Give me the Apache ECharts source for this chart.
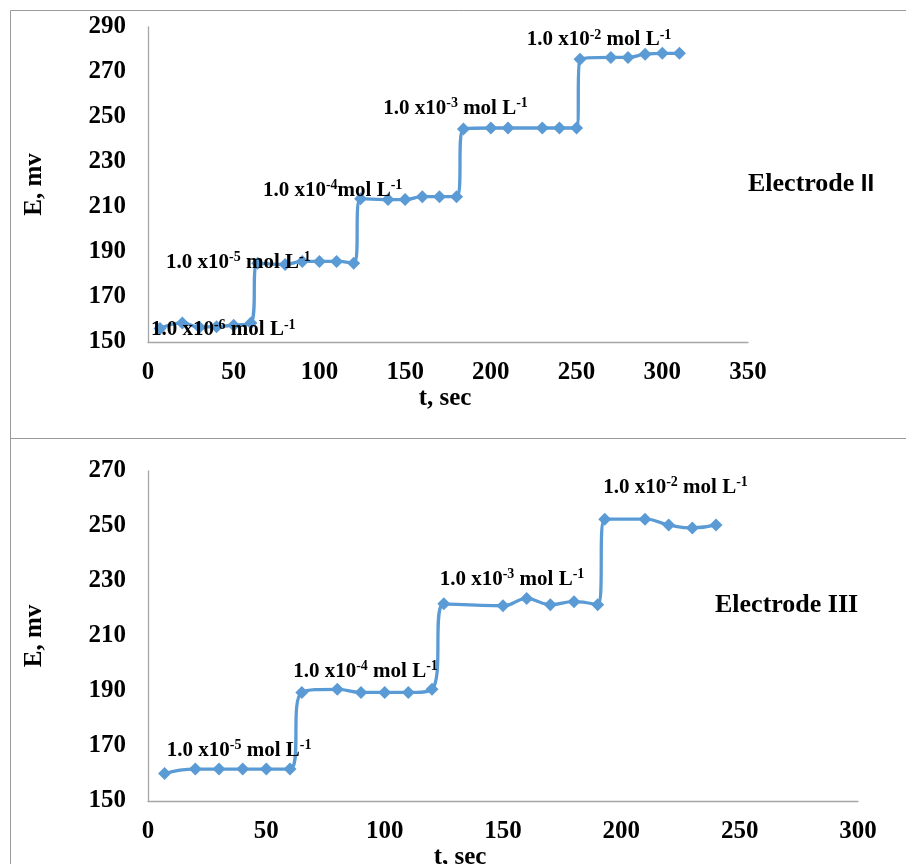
<!DOCTYPE html>
<html>
<head>
<meta charset="utf-8">
<script src="https://cdn.jsdelivr.net/npm/echarts@6/dist/echarts.min.js"></script>
<style>html,body{margin:0;padding:0;background:#fff;overflow:hidden}#c{width:906px;height:864px}</style>
</head>
<body>
<div id="c"></div>
<script>
// Electrode II (top panel)
var topT = [7,20,30,40,50,60,64,80,90,100,110,120,124,140,150,160,170,180,184,200,210,230,240,250,252,270,280,290,300,310];
var topE = [156,158.4,156.6,156.8,157.5,158.4,185,184.5,185.8,185.8,185.8,185,213.7,213.3,213.3,214.6,214.6,214.6,244.7,245.1,245.1,245.1,245.1,245.1,275.7,276.5,276.5,277.9,278.3,278.3];
// Electrode III (bottom panel)
var botT = [7,20,30,40,50,60,65,80,90,100,110,120,125,150,160,170,180,190,193,210,220,230,240];
var botE = [160,161.6,161.6,161.6,161.6,161.6,189.5,190.6,189.5,189.5,189.5,190.6,221.7,221,223.6,221.4,222.5,221.4,252.5,252.5,250.4,249.3,250.4];

// concentration annotations (data coordinates)
var topNoteT = [43.9,52.7,107.7,179.4,263.1];
var topNoteE = [155.8,185.8,217.7,254.4,284.7];
var topNoteExp = ['-6','-5','-4','-3','-2'];
var topNoteSep = [' ',' ','',' ',' '];
var botNoteT = [38.5,91.9,153.8,222.9];
var botNoteE = [168.7,197.6,231,264.3];
var botNoteExp = ['-5','-4','-3','-2'];

var topXTicks = {min:0,max:350,interval:50};
var topYTicks = {min:150,max:290,interval:20};
var botXTicks = {min:0,max:300,interval:50};
var botYTicks = {min:150,max:270,interval:20};

var SERIF = '"Liberation Serif","Times New Roman",serif';
var BLUE = '#5B9BD5';

function pairs(t,e){return t.map(function(v,i){return [v,e[i]];});}
var richNote = {
  a:{fontFamily:SERIF,fontWeight:'bold',fontSize:21,color:'#000',lineHeight:24},
  s:{fontFamily:SERIF,fontWeight:'bold',fontSize:14,color:'#000',lineHeight:14,verticalAlign:'top'}
};
function notes(T,E,X,S){
  return T.map(function(t,i){
    var sep = S ? S[i] : ' ';
    return {
      coord:[t,E[i]],
      symbolSize:0,
      label:{show:true,position:'inside',align:'center',verticalAlign:'middle',offset:[0,1],
        formatter:'{a|1.0 x10}{s|'+X[i]+'}{a|'+sep+'mol L}{s|-1}',rich:richNote}
    };
  });
}
var axisLabel = {fontFamily:SERIF,fontWeight:'bold',fontSize:25,color:'#000'};
var nameStyle = {fontFamily:SERIF,fontWeight:'bold',fontSize:25,color:'#000'};
var axisLine = {show:true,lineStyle:{color:'#a6a6a6',width:1.3}};

function xAx(idx,ticks,pad){
  return {type:'value',gridIndex:idx,min:ticks.min,max:ticks.max,interval:ticks.interval,
    axisLine:axisLine,axisTick:{show:false},splitLine:{show:false},
    axisLabel:Object.assign({margin:18},axisLabel),
    name:'t, sec',nameLocation:'middle',nameGap:36,
    nameTextStyle:Object.assign({padding:pad},nameStyle)};
}
function yAx(idx,ticks){
  return {type:'value',gridIndex:idx,min:ticks.min,max:ticks.max,interval:ticks.interval,
    axisLine:axisLine,axisTick:{show:false},splitLine:{show:false},
    axisLabel:Object.assign({margin:22},axisLabel),
    name:'E, mv',nameLocation:'middle',nameGap:101,nameRotate:90,nameTextStyle:nameStyle};
}
function lineSeries(idx,data,markData){
  return {type:'line',xAxisIndex:idx,yAxisIndex:idx,data:data,smooth:0.5,
    symbol:'diamond',symbolSize:13,showAllSymbol:true,
    lineStyle:{color:BLUE,width:3.3},itemStyle:{color:BLUE},
    markPoint:{symbol:'circle',symbolSize:0,data:markData,z:10},
    animation:false};
}

var chart = echarts.init(document.getElementById('c'),null,{renderer:'canvas'});
chart.setOption({
  backgroundColor:'#fff',
  animation:false,
  grid:[
    {left:148,top:27,width:600,height:315,outerBoundsMode:'none',containLabel:false},
    {left:148,top:471,width:710,height:330,outerBoundsMode:'none',containLabel:false}
  ],
  xAxis:[xAx(0,topXTicks,[0,6,0,0]),xAx(1,botXTicks,[0,86,0,0])],
  yAxis:[yAx(0,topYTicks),yAx(1,botYTicks)],
  series:[
    lineSeries(0,pairs(topT,topE),notes(topNoteT,topNoteE,topNoteExp,topNoteSep)),
    lineSeries(1,pairs(botT,botE),notes(botNoteT,botNoteE,botNoteExp,null))
  ],
  graphic:[
    {type:'rect',shape:{x:10.5,y:10.5,width:920,height:428},style:{fill:null,stroke:'#9a9a9a',lineWidth:1},silent:true,z:-1},
    {type:'rect',shape:{x:10.5,y:438.5,width:920,height:440},style:{fill:null,stroke:'#9a9a9a',lineWidth:1},silent:true,z:-1},
    {type:'text',left:748,top:171,style:{text:'{a|Electrode }{b|II}',
      rich:{a:{fontFamily:SERIF,fontWeight:'bold',fontSize:26,fill:'#000'},b:{fontFamily:'"Liberation Sans",Arial,sans-serif',fontWeight:'bold',fontSize:24,fill:'#000'}}}},
    {type:'text',left:715,top:592,style:{text:'Electrode III',font:'bold 26px '+SERIF,fill:'#000'}}
  ]
});
</script>
</body>
</html>
